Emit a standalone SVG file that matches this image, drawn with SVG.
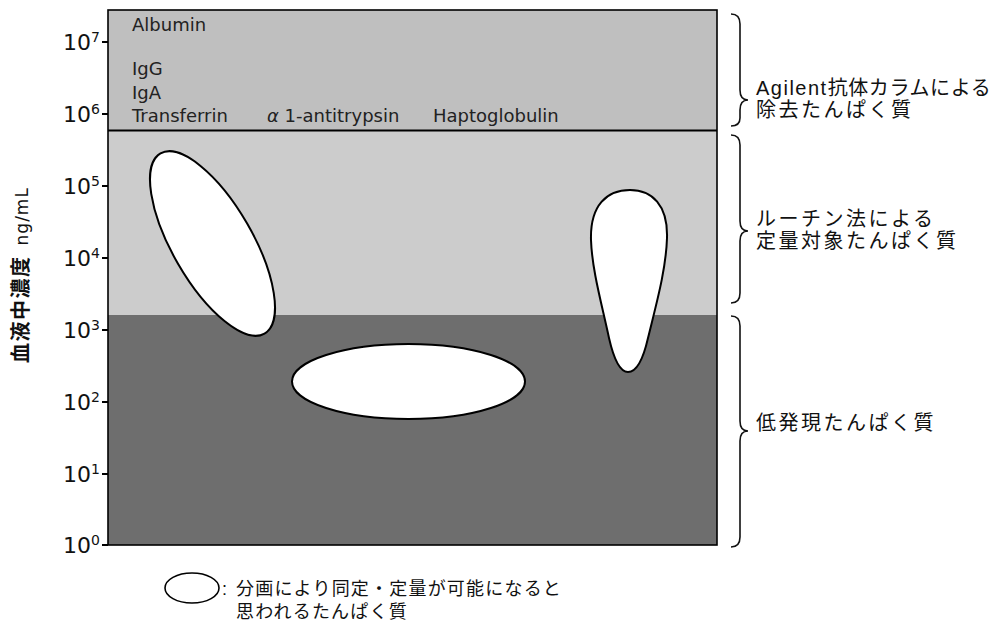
<svg xmlns="http://www.w3.org/2000/svg" width="1008" height="632" viewBox="0 0 1008 632">
<style>
.tick{stroke:#000;stroke-width:2}
.tl{font-family:"DejaVu Sans","Liberation Sans",sans-serif;font-size:22px;fill:#111}
.sup{font-size:14px}
.pl{font-family:"DejaVu Sans","Liberation Sans",sans-serif;font-size:18px;fill:#222}
.jp{font-family:"Liberation Sans","Noto Sans CJK JP",sans-serif;font-size:20px;letter-spacing:2.5px;fill:#111}
.lg{font-family:"Liberation Sans","Noto Sans CJK JP",sans-serif;font-size:18px;letter-spacing:1.2px;fill:#111}
.brace{fill:none;stroke:#111;stroke-width:1.6}
.blob{fill:#fff;stroke:#000;stroke-width:2}
</style>
<rect width="1008" height="632" fill="#fff"/>
<g id="plot">
<rect x="108" y="10" width="609" height="120" fill="#bfbfbf"/>
<rect x="108" y="130" width="609" height="185" fill="#cccccc"/>
<rect x="108" y="315" width="609" height="230" fill="#6e6e6e"/>
<line x1="108" y1="130.5" x2="717" y2="130.5" stroke="#000" stroke-width="2"/>
<rect x="108" y="10" width="609" height="535" fill="none" stroke="#000" stroke-width="1.6"/>
</g>
<g id="axis">
<line class="tick" x1="102" y1="42" x2="108" y2="42"/>
<line class="tick" x1="102" y1="114" x2="108" y2="114"/>
<line class="tick" x1="102" y1="186" x2="108" y2="186"/>
<line class="tick" x1="102" y1="258" x2="108" y2="258"/>
<line class="tick" x1="102" y1="330" x2="108" y2="330"/>
<line class="tick" x1="102" y1="402" x2="108" y2="402"/>
<line class="tick" x1="102" y1="474" x2="108" y2="474"/>
<line class="tick" x1="102" y1="545" x2="108" y2="545"/>
<text class="tl" x="100" y="50" text-anchor="end">10<tspan class="sup" dy="-8">7</tspan></text>
<text class="tl" x="100" y="122" text-anchor="end">10<tspan class="sup" dy="-8">6</tspan></text>
<text class="tl" x="100" y="194" text-anchor="end">10<tspan class="sup" dy="-8">5</tspan></text>
<text class="tl" x="100" y="266" text-anchor="end">10<tspan class="sup" dy="-8">4</tspan></text>
<text class="tl" x="100" y="338" text-anchor="end">10<tspan class="sup" dy="-8">3</tspan></text>
<text class="tl" x="100" y="410" text-anchor="end">10<tspan class="sup" dy="-8">2</tspan></text>
<text class="tl" x="100" y="482" text-anchor="end">10<tspan class="sup" dy="-8">1</tspan></text>
<text class="tl" x="100" y="553" text-anchor="end">10<tspan class="sup" dy="-8">0</tspan></text>
<text transform="translate(28,275) rotate(-90)" text-anchor="middle" fill="#111"><tspan font-family="Noto Sans CJK JP,sans-serif" font-weight="bold" font-size="20" letter-spacing="1.5">血液中濃度</tspan><tspan font-family="DejaVu Sans,sans-serif" font-size="17" dx="10" letter-spacing="1">ng/mL</tspan></text>
</g>
<g id="band-labels">
<text class="pl" x="132" y="31">Albumin</text>
<text class="pl" x="132" y="75">IgG</text>
<text class="pl" x="132" y="99">IgA</text>
<text class="pl" x="132" y="122">Transferrin</text>
<text class="pl" x="267" y="122"><tspan font-style="italic">α</tspan> 1-antitrypsin</text>
<text class="pl" x="433" y="122">Haptoglobulin</text>
</g>
<g id="blob-left"><ellipse class="blob" cx="212.5" cy="243.5" rx="104" ry="40" transform="rotate(60 212.5 243.5)"/></g>
<g id="blob-middle"><ellipse class="blob" cx="408.5" cy="381.5" rx="116.5" ry="37.5"/></g>
<g id="blob-right"><path class="blob" d="M628,372 C620,372 614,360 609,338 C602,305 592,270 591,240 C590,205 607,190 630,190 C652,190 668,205 667,238 C666,270 656,305 648,338 C643,360 636,372 628,372 Z"/></g>
<g id="connectors">
<path class="brace" d="M731,14 Q740,14 740,24 L740,90 Q740,100 748,100 Q740,100 740,110 L740,118 Q740,126 731,126"/>
<path class="brace" d="M731,135 Q740,135 740,145 L740,221 Q740,231 748,231 Q740,231 740,241 L740,293 Q740,303 731,303"/>
<path class="brace" d="M731,316 Q740,316 740,326 L740,421 Q740,431 748,431 Q740,431 740,441 L740,537 Q740,547 731,547"/>
</g>
<g id="label-removed">
<text class="jp" x="756" y="95"><tspan letter-spacing="1.5">Agilent</tspan><tspan letter-spacing="0.6">抗体カラムによる</tspan></text>
<text class="jp" x="756" y="117">除去たんぱく質</text>
</g>
<g id="label-routine">
<text class="jp" x="756" y="226">ルーチン法による</text>
<text class="jp" x="756" y="248">定量対象たんぱく質</text>
</g>
<g id="label-low">
<text class="jp" x="756" y="430">低発現たんぱく質</text>
</g>
<g id="legend">
<ellipse cx="192" cy="588" rx="27" ry="15" fill="#fff" stroke="#000" stroke-width="1.6"/>
<text class="lg" x="222" y="595">:</text>
<text class="lg" x="236" y="595">分画により同定・定量が可能になると</text>
<text class="lg" x="236" y="618">思われるたんぱく質</text>
</g>
</svg>
